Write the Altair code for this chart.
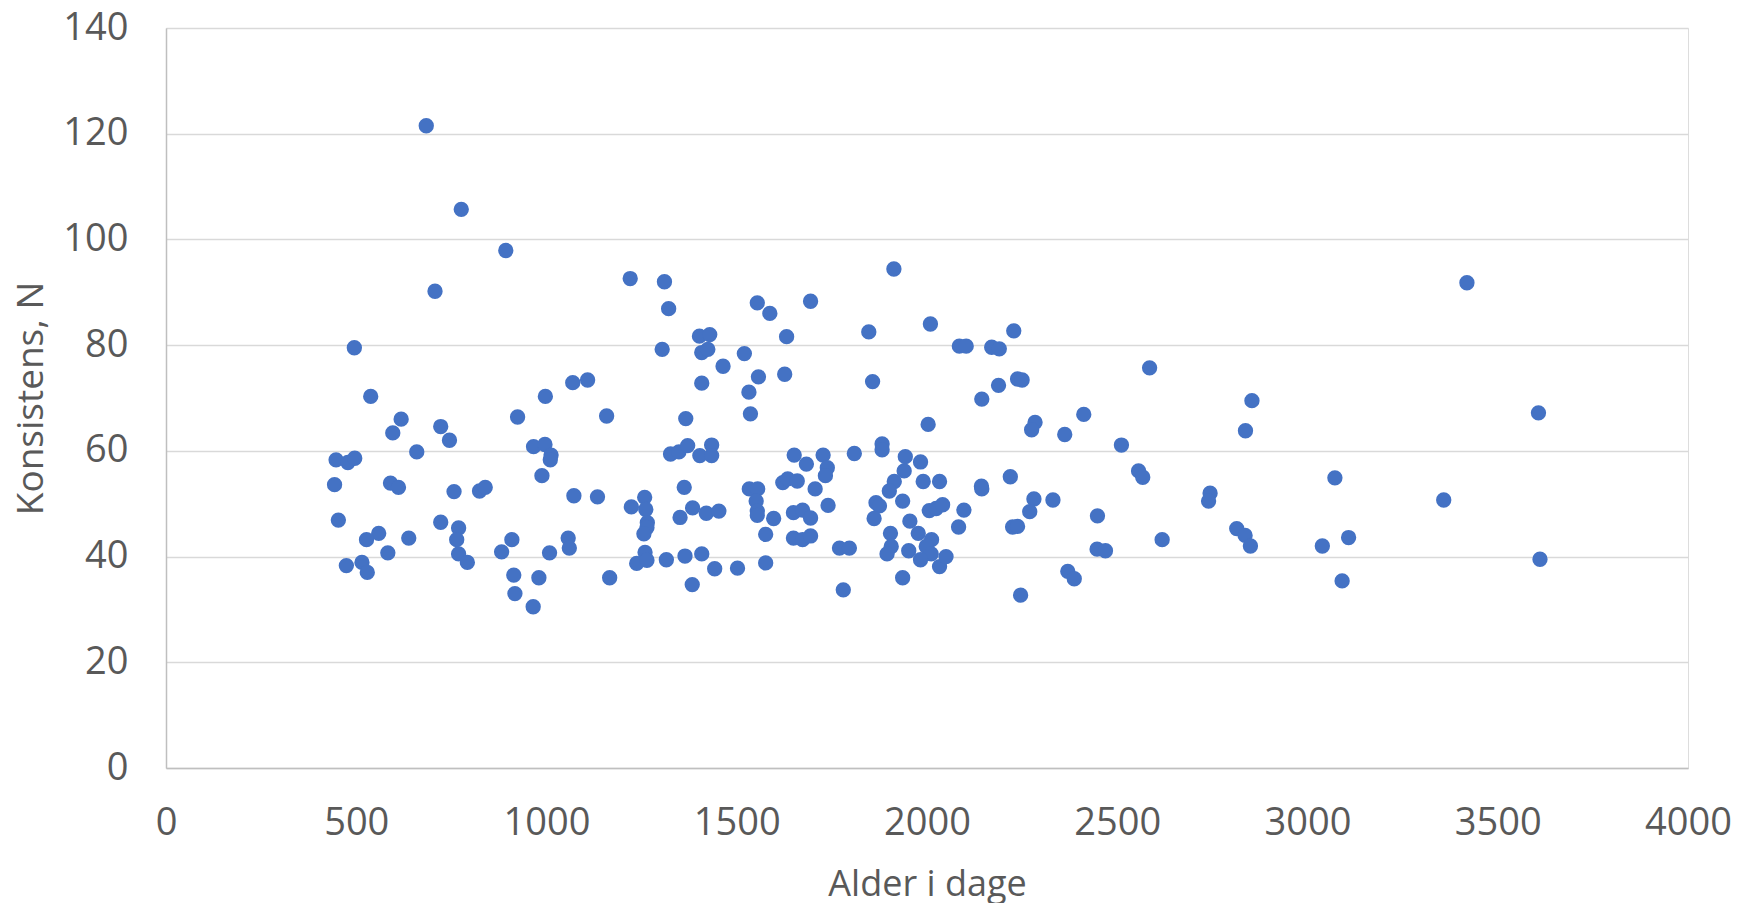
import altair as alt
import pandas as pd

alder = [
    684, 776, 893, 707, 495, 538, 618, 596, 722, 745, 924, 659, 447, 478, 496,
    443, 590, 611, 757, 824, 839, 453, 559, 527, 638, 722, 769, 764, 909, 882,
    583, 769, 792, 474, 515, 529, 914, 917, 965,
    1220, 1310, 1321, 1304, 1402, 1429, 1408, 1424, 1464, 1408, 1520, 997, 1069,
    1108, 1158, 1366, 966, 996, 1012, 1010, 988, 1326, 1348, 1371, 1403, 1434,
    1434, 1362, 1072, 1134, 1223, 1258, 1261, 1265, 1264, 1256, 1351, 1384, 1420,
    1453, 1057, 1060, 1008, 1259, 1237, 1264, 1315, 1364, 1408, 1442, 1502, 980,
    1166, 1383,
    1913, 1694, 1554, 1587, 1631, 1847, 2009, 1557, 1626, 1532, 1536, 1857, 2003,
    1882, 1882, 1809, 1651, 1727, 1683, 1738, 1733, 1943, 1940, 1983, 1621, 1634,
    1659, 1706, 1914, 1901, 1990, 2033, 1533, 1555, 1551, 1554, 1554, 1597, 1740,
    1649, 1673, 1694, 1866, 1875, 1861, 1936, 1955, 2006, 2024, 2041, 1576, 1649,
    1673, 1694, 1904, 1977, 1770, 1796, 1906, 1895, 1952, 2012, 1998, 2011, 1983,
    2033, 2050, 1576, 1936, 1780,
    2228, 2085, 2103, 2170, 2190, 2585, 2238, 2250, 2188, 2144, 2284, 2275, 2412,
    2362, 2511, 2556, 2567, 2219, 2143, 2144, 2097, 2083, 2281, 2270, 2331, 2225,
    2238, 2448, 2447, 2469, 2370, 2387, 2246,
    2854, 2837, 3072, 2744, 2740, 2618, 2814, 2836, 2850, 3039, 3108, 3091,
    3419, 3607, 3358, 3611,
]

konsistens = [
    121.5, 105.7, 97.9, 90.2, 79.5, 70.3, 66.0, 63.4, 64.6, 62.0, 66.4, 59.8, 58.3,
    57.8, 58.6, 53.6, 53.9, 53.1, 52.3, 52.4, 53.1, 46.9, 44.4, 43.2, 43.5, 46.5,
    45.4, 43.2, 43.2, 40.9, 40.7, 40.5, 38.9, 38.3, 38.9, 37.0, 36.5, 33.0, 30.5,
    92.6, 92.0, 86.9, 79.2, 81.7, 82.0, 78.6, 79.2, 76.0, 72.8, 78.4, 70.3, 72.9,
    73.4, 66.6, 66.1, 60.8, 61.2, 59.2, 58.3, 55.3, 59.4, 59.8, 61.0, 59.1, 61.1,
    59.1, 53.1, 51.5, 51.3, 49.4, 51.2, 48.9, 46.4, 45.5, 44.3, 47.4, 49.2, 48.2,
    48.6, 43.5, 41.6, 40.7, 40.8, 38.7, 39.3, 39.4, 40.1, 40.5, 37.7, 37.8, 36.0,
    36.0, 34.7,
    94.4, 88.3, 88.0, 86.0, 81.6, 82.5, 84.0, 74.0, 74.5, 71.1, 67.0, 73.1, 65.0,
    61.3, 60.2, 59.5, 59.2, 59.2, 57.5, 56.8, 55.3, 58.9, 56.2, 57.9, 54.0, 54.7,
    54.3, 52.8, 54.2, 52.4, 54.2, 54.2, 52.8, 52.8, 50.5, 48.6, 47.8, 47.2, 49.7,
    48.3, 48.8, 47.3, 50.2, 49.6, 47.2, 50.5, 46.7, 48.7, 49.1, 49.8, 44.2, 43.5,
    43.2, 43.9, 44.4, 44.4, 41.6, 41.6, 41.9, 40.5, 41.1, 43.2, 41.9, 40.5, 39.4,
    38.1, 40.0, 38.8, 36.0, 33.7,
    82.7, 79.8, 79.8, 79.6, 79.3, 75.7, 73.6, 73.4, 72.4, 69.8, 65.4, 64.0, 66.9,
    63.1, 61.1, 56.2, 55.0, 55.1, 53.3, 52.8, 48.8, 45.6, 50.9, 48.5, 50.7, 45.6,
    45.7, 47.7, 41.4, 41.1, 37.2, 35.8, 32.7,
    69.5, 63.8, 54.9, 52.0, 50.5, 43.2, 45.3, 44.0, 42.0, 42.0, 43.6, 35.4,
    91.8, 67.2, 50.7, 39.5,
]

df = pd.DataFrame({"Alder": alder, "Konsistens": konsistens})

font = "Open Sans"
grey = "#595959"

chart = (
    alt.Chart(df)
    .mark_circle(size=235, color="#4472C4", opacity=1)
    .encode(
        x=alt.X(
            "Alder:Q",
            scale=alt.Scale(domain=[0, 4000], nice=False, zero=True),
            axis=alt.Axis(
                title="Alder i dage",
                values=[0, 500, 1000, 1500, 2000, 2500, 3000, 3500, 4000],
                format="d",
                grid=False,
                ticks=False,
                domain=True,
                domainColor="#BFBFBF",
                domainWidth=1.5,
                labelFont=font,
                labelFontSize=38,
                labelColor=grey,
                labelPadding=36,
                labelFlush=False,
                labelOverlap=False,
                titleFont=font,
                titleFontSize=36,
                titleFontWeight="normal",
                titleColor=grey,
                titleX=761,
                titleY=127,
                titleBaseline="alphabetic",
            ),
        ),
        y=alt.Y(
            "Konsistens:Q",
            scale=alt.Scale(domain=[0, 140], nice=False, zero=True),
            axis=alt.Axis(
                title="Konsistens, N",
                values=[0, 20, 40, 60, 80, 100, 120, 140],
                format="d",
                grid=True,
                gridColor="#D9D9D9",
                gridWidth=1.5,
                ticks=False,
                domain=True,
                domainColor="#BFBFBF",
                domainWidth=1.5,
                labelFont=font,
                labelFontSize=38,
                labelColor=grey,
                labelPadding=38,
                labelFlush=False,
                labelOverlap=False,
                titleFont=font,
                titleFontSize=37,
                titleFontWeight="normal",
                titleColor=grey,
                titleX=-153,
                titleY=370,
                titleAngle=270,
                titleAlign="center",
                titleBaseline="top",
            ),
        ),
    )
    .properties(
        width=1522,
        height=740,
        autosize=alt.AutoSizeParams(type="none"),
        padding={"left": 166, "top": 28, "right": 51, "bottom": 135},
    )
    .configure_view(stroke=None)
    .configure(background="white")
)

chart.save("out.html", embed_options={"renderer": "svg", "actions": False})
